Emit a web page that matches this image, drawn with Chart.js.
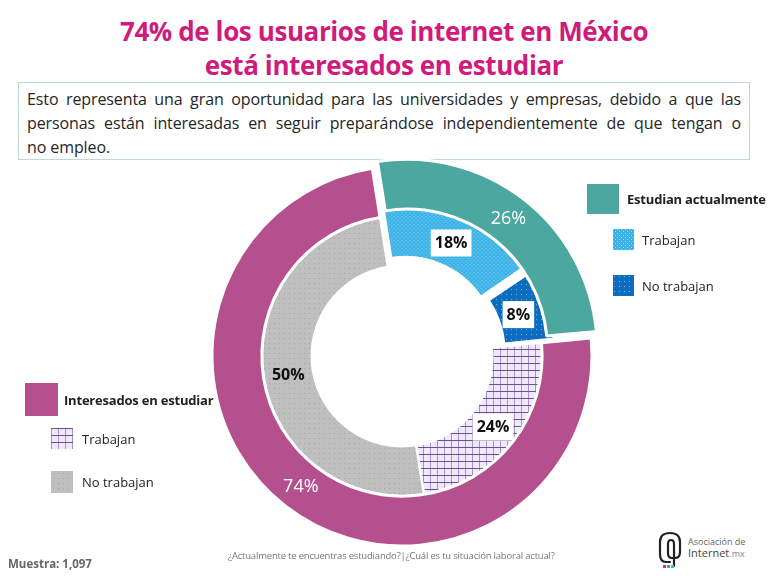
<!DOCTYPE html>
<html lang="es">
<head>
    <meta charset="UTF-8">
    <title>Interesados en estudiar</title>
    <script src="https://cdn.jsdelivr.net/npm/chart.js"></script>
    <style>
        body {
            margin: 0;
            width: 768px;
            height: 576px;
            position: relative;
            overflow: hidden;
            background: #ffffff;
            font-family: "Open Sans", "Noto Sans", sans-serif;
            color: #333;
        }
        .title {
            position: absolute;
            left: 0;
            top: 14px;
            width: 768px;
            text-align: center;
            color: #cf1b7b;
            font-weight: bold;
            font-size: 26px;
            line-height: 34px;
            letter-spacing: -0.4px;
        }
        .note {
            position: absolute;
            left: 18px;
            top: 82px;
            width: 714px;
            height: 70px;
            padding: 4px 8px 2px 8px;
            border: 1.5px solid #bcd9d2;
            font-size: 16px;
            line-height: 24px;
            color: #262626;
            letter-spacing: -0.1px;
        }
        .note .j {
            display: block;
            text-align: justify;
            text-align-last: justify;
        }
        #chartBox {
            position: absolute;
            left: 192px;
            top: 146px;
            width: 420px;
            height: 420px;
        }
        .legend {
            position: absolute;
            font-size: 13px;
            color: #222;
        }
        .legend .row {
            position: absolute;
            white-space: nowrap;
            display: flex;
            align-items: center;
        }
        .legend .main {
            font-weight: bold;
            letter-spacing: -0.2px;
        }
        .legend canvas { display: block; }
        .footer-n {
            position: absolute;
            left: 8px;
            top: 556px;
            font-size: 11.5px;
            font-weight: bold;
            color: #666;
        }
        .footer-q {
            position: absolute;
            left: 228px;
            top: 549px;
            font-size: 9.5px;
            color: #777;
            letter-spacing: -0.2px;
        }
        .logo {
            position: absolute;
            left: 656px;
            top: 530px;
        }
    </style>
</head>
<body>

    <div class="title">74% de los usuarios de internet en México<br>está interesados en estudiar</div>

    <div class="note">
        <span class="j">Esto representa una gran oportunidad para las universidades y empresas, debido a que las</span>
        <span class="j">personas están interesadas en seguir preparándose independientemente de que tengan o</span>
        <span>no empleo.</span>
    </div>

    <div id="chartBox"><canvas id="donut"></canvas></div>

    <div class="legend">
        <div class="row main" style="left:587px; top:184px;"><canvas id="lgTeal" width="32" height="30"></canvas><span style="margin-left:8px;">Estudian actualmente</span></div>
        <div class="row" style="left:613px; top:229px;"><canvas id="lgLightBlue" width="21" height="21"></canvas><span style="margin-left:8px;">Trabajan</span></div>
        <div class="row" style="left:613px; top:275px;"><canvas id="lgDarkBlue" width="21" height="21"></canvas><span style="margin-left:8px;">No trabajan</span></div>

        <div class="row main" style="left:25px; top:383px;"><canvas id="lgMagenta" width="33" height="33"></canvas><span style="margin-left:6px;">Interesados en estudiar</span></div>
        <div class="row" style="left:51px; top:428px;"><canvas id="lgPurple" width="22" height="21"></canvas><span style="margin-left:9px;">Trabajan</span></div>
        <div class="row" style="left:51px; top:471px;"><canvas id="lgGray" width="22" height="22"></canvas><span style="margin-left:9px;">No trabajan</span></div>
    </div>

    <div class="footer-q">¿Actualmente te encuentras estudiando?|¿Cuál es tu situación laboral actual?</div>
    <div class="footer-n">Muestra: 1,097</div>

    <svg class="logo" width="110" height="40" viewBox="0 0 110 40">
        <path d="M14 32 L10 32 Q4 32 4 24 L4 12 Q4 3 14 3 Q24 3 24 12 L24 22 Q24 28 19 28 L16 28 Q12 28 12 23 L12 14 Q12 10 15 10 Q18 10 18 14 L18 36" fill="none" stroke="#222" stroke-width="2.2" stroke-linecap="round"/>
        <rect x="7" y="35" width="3" height="3" fill="#d6307f"/>
        <rect x="11" y="35" width="3" height="3" fill="#4aa8a0"/>
        <rect x="15" y="35" width="3" height="3" fill="#3db3e6"/>
        <text x="32" y="15" font-family="Open Sans, sans-serif" font-size="9" fill="#666">Asociación de</text>
        <text x="32" y="27" font-family="Open Sans, sans-serif" font-size="11" fill="#444">Internet<tspan fill="#888" font-size="9">.mx</tspan></text>
    </svg>

    <script>
        // --- Data ---
        const outerLabels = ['Estudian actualmente', 'Interesados en estudiar'];
        const outerValues = [26, 74];
        const innerLabels = ['Trabajan', 'No trabajan', 'Trabajan', 'No trabajan'];
        const innerValues = [18, 8, 24, 50];

        // --- Fills ---
        function makePattern(kind) {
            const c = document.createElement('canvas');
            const g = c.getContext('2d');
            if (kind === 'lightblue') {
                c.width = 4; c.height = 4;
                g.fillStyle = '#3cb2e6'; g.fillRect(0, 0, 4, 4);
                g.fillStyle = '#9ad9f4';
                g.fillRect(0, 0, 1, 1); g.fillRect(2, 2, 1, 1);
            } else if (kind === 'darkblue') {
                c.width = 5; c.height = 5;
                g.fillStyle = '#0b6cc0'; g.fillRect(0, 0, 5, 5);
                g.fillStyle = '#7fb3e3';
                g.fillRect(1, 1, 1, 1);
            } else if (kind === 'purple') {
                c.width = 7; c.height = 7;
                g.fillStyle = '#efe8f8'; g.fillRect(0, 0, 7, 7);
                g.fillStyle = '#a793c8'; g.fillRect(0, 0, 1, 7);
                g.fillStyle = '#6c5096'; g.fillRect(0, 0, 7, 1);
            } else {
                c.width = 5; c.height = 5;
                g.fillStyle = '#bfbfbf'; g.fillRect(0, 0, 5, 5);
                g.fillStyle = '#a4a4a4';
                g.fillRect(2, 2, 1, 1);
            }
            return g.createPattern(c, 'repeat');
        }

        const teal = '#4ba79f';
        const magenta = '#b5508e';
        const innerFills = [makePattern('lightblue'), makePattern('darkblue'), makePattern('purple'), makePattern('gray')];

        function fillLegend(id, fill) {
            const cv = document.getElementById(id);
            const g = cv.getContext('2d');
            g.fillStyle = fill;
            g.fillRect(0, 0, cv.width, cv.height);
        }
        fillLegend('lgTeal', teal);
        fillLegend('lgMagenta', magenta);
        fillLegend('lgLightBlue', innerFills[0]);
        fillLegend('lgDarkBlue', innerFills[1]);
        fillLegend('lgPurple', innerFills[2]);
        fillLegend('lgGray', innerFills[3]);

        // labels drawn on the slices (mid radius, mid angle, plus the slice's pull-out)
        const labelPlugin = {
            id: 'sliceLabels',
            afterDatasetsDraw(chart) {
                const ctx = chart.ctx;
                chart.data.datasets.forEach((ds, di) => {
                    const meta = chart.getDatasetMeta(di);
                    meta.data.forEach((arc, i) => {
                        const a = arc.getProps(['x', 'y', 'startAngle', 'endAngle', 'innerRadius', 'outerRadius'], true);
                        const mid = (a.startAngle + a.endAngle) / 2;
                        const r = (a.innerRadius + a.outerRadius) / 2 + (arc.options.offset || 0) / 4;
                        const x = a.x + Math.cos(mid) * r;
                        const y = a.y + Math.sin(mid) * r;
                        const txt = ds.data[i] + '%';
                        ctx.save();
                        ctx.textAlign = 'center';
                        ctx.textBaseline = 'middle';
                        if (di === 0) {
                            ctx.font = '18px "Open Sans", sans-serif';
                            ctx.fillStyle = '#ffffff';
                            ctx.fillText(txt, x, y);
                        } else {
                            ctx.font = 'bold 16px "Open Sans", sans-serif';
                            if (ds.labelBox[i]) {
                                const w = ctx.measureText(txt).width;
                                ctx.fillStyle = '#ffffff';
                                ctx.fillRect(x - w / 2 - 4, y - 13, w + 8, 27);
                            }
                            ctx.fillStyle = '#111111';
                            ctx.fillText(txt, x, y + 1);
                        }
                        ctx.restore();
                    });
                });
            }
        };

        new Chart(document.getElementById('donut'), {
            type: 'doughnut',
            data: {
                labels: innerLabels,
                datasets: [
                    {
                        label: 'Grupo',
                        data: outerValues,
                        backgroundColor: [teal, magenta],
                        borderColor: '#ffffff',
                        borderWidth: 3,
                        offset: [34, 0]
                    },
                    {
                        label: 'Situación laboral',
                        data: innerValues,
                        backgroundColor: innerFills,
                        borderColor: '#ffffff',
                        borderWidth: 2.5,
                        offset: [34, 34, 0, 0],
                        labelBox: [true, true, true, false]
                    }
                ]
            },
            options: {
                responsive: true,
                maintainAspectRatio: false,
                animation: false,
                rotation: -9,
                radius: 190,
                cutout: '47.5%',
                events: [],
                plugins: {
                    legend: { display: false },
                    tooltip: { enabled: false }
                }
            },
            plugins: [labelPlugin]
        });
    </script>
</body>
</html>
